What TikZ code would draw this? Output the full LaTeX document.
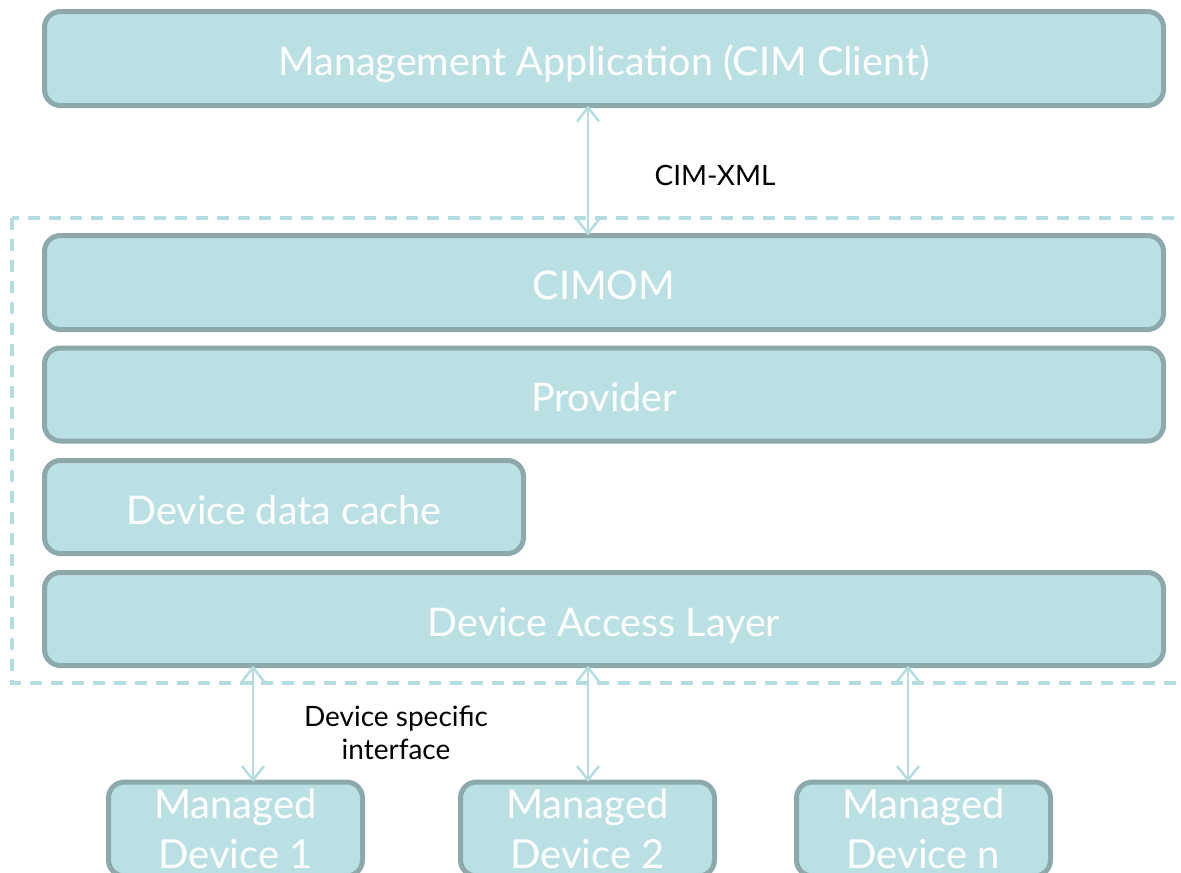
\documentclass[tikz,border=0pt]{standalone}
\usepackage{fontspec}
\setmainfont{Lato}
\usetikzlibrary{arrows.meta}
\definecolor{boxfill}{HTML}{BBE0E3}
\definecolor{boxline}{HTML}{8DA9AB}
\definecolor{linkcol}{HTML}{B5DDE1}
\tikzset{
  panel/.style={draw=boxline, fill=boxfill, line width=5pt, rounded corners=16pt,
    text=white, inner sep=0pt},
  layer/.style={panel, font=\fontsize{39.5}{46}\selectfont, text height=34pt, text depth=0pt},
  device/.style={panel, minimum width=254pt, minimum height=94pt, anchor=north,
    align=center, font=\fontsize{40}{50}\selectfont},
  link/.style={draw=linkcol, line width=2.5pt, shorten <=-2.5pt, shorten >=-2.5pt,
    {Straight Barb[length=14pt,width=22pt]}-{Straight Barb[length=14pt,width=22pt]}},
  boundary/.style={draw=linkcol, line width=4.5pt, dash pattern=on 12pt off 9pt},
  note/.style={text=black, font=\fontsize{28}{33}\selectfont, align=center, inner sep=0pt}
}
\begin{document}
\begin{tikzpicture}[x=1pt,y=-1pt]
  \clip (0,0) rectangle (1181,873);
  \fill[white] (0,0) rectangle (1181,873);

  % server-side boundary
  \draw[boundary] (12,218) rectangle (1220,683);

  % stacked layers
  \node[layer, minimum width=1119pt, minimum height=94pt] (client) at (604,58.5)
    {Management Application (CIM Client)};
  \node[layer, minimum width=1119pt, minimum height=94pt] (cimom) at (604,282.5) {CIMOM};
  \node[layer, minimum width=1119pt, minimum height=93pt] (provider) at (604,394.5) {Provider};
  \node[layer, minimum width=479pt, minimum height=93pt] (cache) at (284,507) {Device data cache};
  \node[layer, minimum width=1119pt, minimum height=93pt] (dal) at (604,619) {Device Access Layer};

  % managed devices
  \node[device] (d1) at (235.5,779.5) {Managed\\Device 1};
  \node[device] (d2) at (587.5,779.5) {Managed\\Device 2};
  \node[device] (dn) at (923.5,779.5) {Managed\\Device n};

  % connectors
  \coordinate (a0) at ([xshift=-16pt]client.south);
  \draw[link] (a0) -- (a0 |- cimom.north);
  \coordinate (a1) at ([xshift=17.5pt]d1.north);
  \coordinate (a2) at ([xshift=0.5pt]d2.north);
  \coordinate (a3) at ([xshift=-15.5pt]dn.north);
  \draw[link] (a1 |- dal.south) -- (a1);
  \draw[link] (a2 |- dal.south) -- (a2);
  \draw[link] (a3 |- dal.south) -- (a3);

  % labels
  \node[note] (xml) at (715,175) {CIM-XML};
  \node[note] (dsi) at (396,733) {Device specific\\interface};
\end{tikzpicture}
\end{document}
